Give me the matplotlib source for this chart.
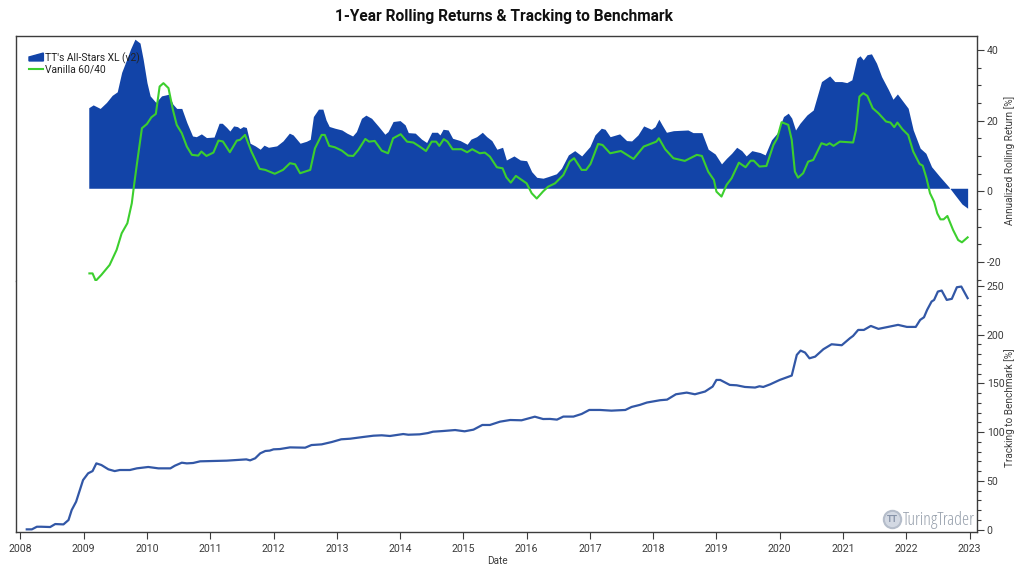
import matplotlib
matplotlib.use('Agg')
import matplotlib.pyplot as plt
from matplotlib.legend_handler import HandlerPatch
from matplotlib.lines import Line2D
from matplotlib.patches import Patch, Polygon
from matplotlib.ticker import MultipleLocator

plt.rcParams['font.family'] = ['Roboto', 'DejaVu Sans']
plt.rcParams['axes.unicode_minus'] = False

# all dates are decimal years
area_dates = [2009.08, 2009.15, 2009.26, 2009.36, 2009.45, 2009.53, 2009.60, 2009.68, 2009.74, 2009.81,
              2009.89, 2009.94, 2010.00, 2010.05, 2010.14, 2010.23, 2010.34, 2010.41, 2010.47, 2010.55,
              2010.63, 2010.72, 2010.78, 2010.86, 2010.94, 2011.06, 2011.14, 2011.19, 2011.26, 2011.31,
              2011.37, 2011.43, 2011.47, 2011.52, 2011.57, 2011.63, 2011.71, 2011.79, 2011.85, 2011.92,
              2012.05, 2012.15, 2012.25, 2012.31, 2012.42, 2012.52, 2012.58, 2012.63, 2012.71, 2012.78,
              2012.83, 2012.88, 2012.97, 2013.08, 2013.16, 2013.25, 2013.31, 2013.39, 2013.46, 2013.55,
              2013.66, 2013.76, 2013.81, 2013.89, 2014.00, 2014.08, 2014.13, 2014.24, 2014.34, 2014.42,
              2014.50, 2014.59, 2014.63, 2014.68, 2014.76, 2014.83, 2014.95, 2015.06, 2015.12, 2015.21,
              2015.30, 2015.37, 2015.45, 2015.53, 2015.62, 2015.68, 2015.80, 2015.90, 2016.00, 2016.08,
              2016.16, 2016.26, 2016.34, 2016.47, 2016.55, 2016.66, 2016.76, 2016.87, 2017.00, 2017.08,
              2017.18, 2017.24, 2017.32, 2017.47, 2017.58, 2017.66, 2017.76, 2017.85, 2017.97, 2018.03,
              2018.09, 2018.14, 2018.21, 2018.32, 2018.55, 2018.63, 2018.77, 2018.87, 2018.98, 2019.08,
              2019.16, 2019.24, 2019.32, 2019.40, 2019.47, 2019.56, 2019.69, 2019.77, 2019.87, 2019.96,
              2020.06, 2020.135, 2020.19, 2020.25, 2020.32, 2020.43, 2020.53, 2020.66, 2020.79, 2020.87,
              2020.98, 2021.06, 2021.14, 2021.22, 2021.27, 2021.32, 2021.38, 2021.45, 2021.53, 2021.61,
              2021.72, 2021.79, 2021.86, 2021.95, 2022.03, 2022.11, 2022.22, 2022.31, 2022.40, 2022.53,
              2022.67, 2022.77, 2022.88, 2022.97]
allstars = [23.7, 24.5, 23.5, 25.2, 27.2, 28.2, 33.7, 37.4, 40.3, 43.1,
            42.0, 37.4, 30.8, 27.05, 25.2, 27.05, 27.5, 24.7, 23.5, 23.5,
            19.5, 15.7, 15.5, 16.3, 15.25, 15.4, 19.3, 19.3, 18.1, 17.1,
            18.55, 18.35, 17.8, 18.35, 18.1, 13.65, 12.9, 11.95, 13.1, 12.5,
            12.9, 14.3, 16.5, 16.0, 13.65, 14.2, 14.75, 21.2, 23.3, 23.3,
            20.25, 18.4, 17.9, 17.4, 16.5, 15.7, 16.95, 20.7, 21.6, 20.7,
            18.4, 16.2, 16.95, 19.8, 20.05, 18.85, 16.65, 16.5, 14.8, 13.85,
            16.75, 16.75, 16.0, 17.6, 17.4, 15.05, 14.4, 13.35, 14.8, 15.5,
            16.75, 15.5, 14.4, 11.95, 12.5, 8.9, 10.05, 8.9, 8.7, 5.6,
            4.0, 3.75, 4.2, 5.0, 6.55, 10.35, 11.55, 10.05, 12.7, 16.0,
            17.9, 17.6, 15.5, 16.3, 14.4, 14.3, 16.0, 18.55, 17.6, 18.35,
            20.45, 18.85, 16.75, 17.2, 17.4, 16.65, 16.65, 11.95, 10.6, 7.8,
            9.4, 10.8, 12.5, 11.55, 10.05, 11.55, 11.0, 10.35, 14.6, 16.5,
            21.2, 22.15, 20.75, 17.4, 19.3, 21.65, 23.05, 31.1, 32.7, 31.1,
            31.1, 30.8, 31.6, 37.7, 38.4, 37.25, 38.7, 38.95, 36.3, 32.5,
            28.75, 26.1, 27.6, 25.45, 23.55, 17.4, 12.25, 10.8, 7.0, 4.2,
            1.35, -1.0, -3.55, -4.75]
area_base = 0.9

vanilla_dates = [2009.09, 2009.14, 2009.19, 2009.28, 2009.41, 2009.52, 2009.60, 2009.69, 2009.76, 2009.80,
                 2009.85, 2009.92, 2010.00, 2010.07, 2010.14, 2010.20, 2010.26, 2010.34, 2010.41, 2010.47,
                 2010.55, 2010.63, 2010.71, 2010.81, 2010.86, 2010.94, 2011.05, 2011.13, 2011.20, 2011.31,
                 2011.42, 2011.47, 2011.55, 2011.65, 2011.78, 2011.87, 2012.02, 2012.15, 2012.26, 2012.34,
                 2012.42, 2012.58, 2012.655, 2012.76, 2012.81, 2012.88, 2012.97, 2013.08, 2013.18, 2013.26,
                 2013.34, 2013.45, 2013.51, 2013.60, 2013.71, 2013.81, 2013.89, 2014.01, 2014.11, 2014.21,
                 2014.31, 2014.41, 2014.50, 2014.57, 2014.62, 2014.69, 2014.75, 2014.83, 2014.97, 2015.06,
                 2015.14, 2015.26, 2015.34, 2015.42, 2015.53, 2015.62, 2015.68, 2015.75, 2015.83, 2016.00,
                 2016.08, 2016.16, 2016.26, 2016.34, 2016.45, 2016.58, 2016.68, 2016.75, 2016.87, 2016.94,
                 2017.01, 2017.13, 2017.20, 2017.32, 2017.49, 2017.69, 2017.85, 2018.05, 2018.09, 2018.19,
                 2018.32, 2018.50, 2018.69, 2018.77, 2018.87, 2018.96, 2019.00, 2019.08, 2019.16, 2019.24,
                 2019.355, 2019.46, 2019.54, 2019.59, 2019.68, 2019.79, 2019.90, 2019.96, 2020.03, 2020.135,
                 2020.19, 2020.24, 2020.29, 2020.37, 2020.45, 2020.53, 2020.66, 2020.74, 2020.79, 2020.85,
                 2020.95, 2021.16, 2021.205, 2021.26, 2021.32, 2021.385, 2021.47, 2021.56, 2021.68, 2021.75,
                 2021.81, 2021.86, 2021.94, 2022.03, 2022.11, 2022.21, 2022.26, 2022.32, 2022.375, 2022.44,
                 2022.49, 2022.54, 2022.59, 2022.65, 2022.74, 2022.82, 2022.88, 2022.97]
vanilla = [-23.2, -23.2, -25.3, -23.6, -20.8, -16.55, -11.85, -9.0, -3.35, 2.35,
           8.95, 17.9, 19.1, 21.0, 21.95, 29.7, 30.65, 29.25, 23.1, 18.85,
           16.5, 12.7, 10.35, 10.15, 11.3, 10.05, 11.0, 14.4, 14.15, 11.1,
           14.4, 14.6, 16.0, 11.3, 6.4, 6.1, 5.0, 6.1, 8.0, 7.7,
           5.15, 6.1, 12.2, 16.0, 16.0, 12.9, 12.5, 11.55, 10.15, 10.05,
           11.75, 14.85, 14.1, 14.3, 11.55, 10.8, 15.05, 16.2, 14.1, 13.85,
           12.7, 11.45, 14.1, 14.1, 12.9, 14.8, 14.1, 11.95, 11.95, 11.1,
           11.95, 10.8, 11.0, 9.85, 6.85, 6.55, 4.0, 2.5, 4.4, 2.3,
           -0.5, -2.0, 0.0, 1.35, 2.3, 4.65, 8.45, 9.4, 6.1, 6.1,
           7.8, 13.45, 13.15, 10.8, 11.45, 9.2, 12.7, 14.1, 15.05, 11.95,
           9.4, 8.65, 10.35, 10.05, 5.6, 3.25, -0.05, -1.45, 1.85, 3.75,
           8.15, 6.85, 8.7, 8.7, 7.05, 7.2, 13.15, 15.05, 19.6, 18.85,
           14.6, 5.6, 3.9, 5.15, 8.45, 8.9, 13.65, 13.15, 13.65, 12.9,
           14.1, 13.85, 17.4, 26.85, 27.8, 27.05, 23.55, 22.15, 19.8, 19.5,
           18.2, 19.5, 17.6, 16.0, 11.3, 7.8, 7.3, 3.75, -0.5, -2.9,
           -6.2, -7.9, -7.9, -6.95, -10.9, -13.75, -14.4, -13.0]

track_dates = [2008.10, 2008.18, 2008.26, 2008.33, 2008.47, 2008.55, 2008.68, 2008.76, 2008.81, 2008.88,
               2008.99, 2009.07, 2009.14, 2009.20, 2009.28, 2009.39, 2009.49, 2009.57, 2009.73, 2009.84,
               2010.02, 2010.18, 2010.37, 2010.44, 2010.55, 2010.63, 2010.73, 2010.84, 2011.26, 2011.57,
               2011.63, 2011.71, 2011.79, 2011.87, 2011.94, 2012.00, 2012.10, 2012.26, 2012.50, 2012.60,
               2012.76, 2012.92, 2013.07, 2013.21, 2013.42, 2013.58, 2013.71, 2013.84, 2014.05, 2014.13,
               2014.31, 2014.44, 2014.52, 2014.68, 2014.87, 2015.02, 2015.16, 2015.30, 2015.42, 2015.58,
               2015.74, 2015.92, 2016.13, 2016.26, 2016.37, 2016.48, 2016.58, 2016.74, 2016.87, 2016.99,
               2017.16, 2017.34, 2017.56, 2017.66, 2017.79, 2017.90, 2018.11, 2018.22, 2018.36, 2018.53,
               2018.66, 2018.82, 2018.94, 2019.00, 2019.06, 2019.21, 2019.32, 2019.45, 2019.61, 2019.68,
               2019.74, 2019.85, 2020.00, 2020.19, 2020.27, 2020.33, 2020.40, 2020.47, 2020.56, 2020.69,
               2020.82, 2020.98, 2021.11, 2021.16, 2021.24, 2021.33, 2021.44, 2021.56, 2021.69, 2021.87,
               2022.01, 2022.15, 2022.22, 2022.28, 2022.33, 2022.40, 2022.44, 2022.50, 2022.56, 2022.64,
               2022.72, 2022.80, 2022.87, 2022.97]
tracking = [0.2, 0.2, 2.9, 2.9, 2.6, 5.66, 5.3, 9.8, 20.0, 28.6,
            50.8, 57.7, 60.0, 67.9, 66.2, 61.8, 60.0, 61.1, 61.1, 62.8,
            64.2, 62.8, 62.8, 65.5, 68.6, 67.9, 68.3, 70.0, 70.7, 72.0,
            71.0, 73.1, 78.2, 80.6, 81.0, 82.3, 82.6, 84.3, 84.0, 86.7,
            87.4, 89.8, 92.6, 93.2, 95.0, 96.3, 96.7, 96.0, 98.0, 97.3,
            97.7, 99.0, 100.4, 101.1, 102.1, 100.8, 102.5, 107.3, 107.3, 110.7,
            112.4, 112.1, 115.8, 113.4, 113.5, 112.8, 115.9, 115.9, 118.6, 122.7,
            122.7, 122.0, 122.7, 125.8, 127.9, 130.3, 132.7, 133.3, 138.8, 140.5,
            138.8, 141.6, 146.7, 153.5, 153.5, 148.4, 148.0, 146.3, 145.7, 147.0,
            146.3, 149.0, 153.5, 158.0, 179.2, 183.6, 181.6, 175.7, 177.4, 185.0,
            190.1, 189.1, 196.3, 198.7, 204.8, 204.8, 208.9, 205.9, 207.6, 210.0,
            207.9, 207.9, 215.1, 217.8, 225.4, 233.9, 235.6, 244.2, 245.2, 235.6,
            236.7, 248.6, 249.3, 237.4]

years = list(range(2008, 2024))
top_ticks = [-20, 0, 20, 40]
bottom_ticks = [0, 50, 100, 150, 200, 250]

BLUE = '#1244a8'
GREEN = '#3ccf2e'
TRACK = '#3257a6'
GREY = '#3c3c3c'
W, H = 1024, 576

fig = plt.figure(figsize=(W / 100, H / 100), dpi=100)
ax1 = fig.add_axes([16 / W, 1 - 281 / H, 961 / W, 245 / H])
ax2 = fig.add_axes([16 / W, 1 - 532 / H, 961 / W, 251 / H], sharex=ax1)

ax1.fill_between(area_dates, area_base, allstars, color=BLUE, lw=0)
ax1.plot(vanilla_dates, vanilla, color=GREEN, lw=1.5)
ax2.plot(track_dates, tracking, color=TRACK, lw=1.6)

ax1.set_xlim(2007.93, 2023.118)
ax1.set_ylim(-25.35, 44)
ax2.set_ylim(-2.5, 255)

for ax in (ax1, ax2):
    ax.yaxis.tick_right()
    ax.yaxis.set_label_position('right')
    ax.tick_params(axis='both', which='major', length=5, width=0.8, color=GREY, labelcolor=GREY, labelsize=7.6, pad=2)
    ax.tick_params(axis='y', which='minor', length=3, width=0.8, color=GREY)
    for s in ax.spines.values():
        s.set_color(GREY)
        s.set_linewidth(1)
ax1.spines['bottom'].set_visible(False)
ax2.spines['top'].set_visible(False)
ax1.tick_params(axis='x', which='both', bottom=False, labelbottom=False)
ax2.tick_params(axis='x', pad=4)

ax1.set_yticks(top_ticks)
ax1.yaxis.set_minor_locator(MultipleLocator(5))
ax2.set_yticks(bottom_ticks)
ax2.yaxis.set_minor_locator(MultipleLocator(10))
ax2.set_xticks(years)
ax2.set_xticklabels([str(y) for y in years])

fig.text(497 / W, 1 - 561 / H, 'Date', color=GREY, fontsize=7.2, ha='center', va='center')
fig.text(1010 / W, 1 - 160 / H, 'Annualized Rolling Return [%]', color=GREY, fontsize=7.2,
         rotation=90, ha='center', va='center')
fig.text(1010 / W, 1 - 408 / H, 'Tracking to Benchmark [%]', color=GREY, fontsize=7.2,
         rotation=90, ha='center', va='center')
fig.text(504 / W, 1 - 17 / H, '1-Year Rolling Returns & Tracking to Benchmark', color='#111111',
         fontsize=11.2, fontweight='bold', ha='center', va='center')


def wedge_handle(legend, orig_handle, xdescent, ydescent, width, height, fontsize):
    return Polygon([(0, 0), (0, height * 0.55), (width, height * 1.1), (width, 0)])


handles = [Patch(color=BLUE), Line2D([], [], color=GREEN, lw=1.5)]
labels = ["TT's All-Stars XL (v2)", 'Vanilla 60/40']
leg = ax1.legend(handles, labels, loc='upper left', bbox_to_anchor=(13 / 961, 1 - 16 / 245), frameon=False,
                 fontsize=7.4, labelcolor='#222222', handlelength=1.4, handletextpad=0.2,
                 labelspacing=0.1, borderpad=0, borderaxespad=0,
                 handler_map={Patch: HandlerPatch(patch_func=wedge_handle)})
leg.set_zorder(10)

# watermark
ax2.plot([(892 - 16) / 961], [(532 - 519) / 251], marker='o', ms=12.5, color='#d3d9e3', mec='#b5bdca', mew=1.5,
         transform=ax2.transAxes, clip_on=False)
ax2.text((892 - 16) / 961, (532 - 519) / 251, 'TT', color='#8793a8', fontsize=6.5, fontweight='bold',
         transform=ax2.transAxes, ha='center', va='center')
ax2.text((903 - 16) / 961, (532 - 520) / 251, 'TuringTrader', color='#98a1ad', fontsize=13,
         family=['Open Sans', 'DejaVu Sans'], fontstretch='condensed', transform=ax2.transAxes, ha='left', va='center')

fig.savefig('out.png', dpi=100)
